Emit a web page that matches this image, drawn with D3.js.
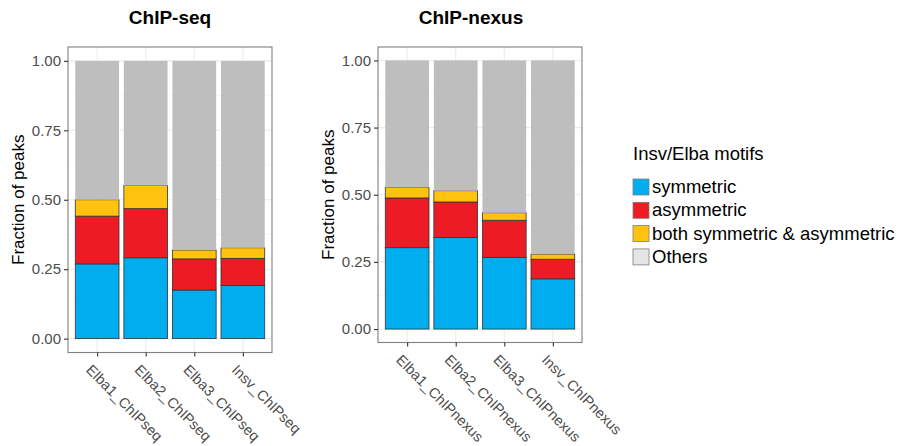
<!DOCTYPE html>
<html>
<head>
  <meta charset="utf-8">
  <title>Insv/Elba motifs</title>
  <script src="https://cdnjs.cloudflare.com/ajax/libs/d3/7.8.5/d3.min.js"></script>
  <style>
    body { margin: 0; background: #fff; }
    text { font-family: "Liberation Sans", Arial, sans-serif; }
  </style>
</head>
<body>
<script>
var width = 899, height = 446;

// data
var seqCategories   = ["Elba1_ChIPseq", "Elba2_ChIPseq", "Elba3_ChIPseq", "Insv_ChIPseq"];
var seqSymmetric    = [0.269, 0.291, 0.175, 0.191];
var seqAsymmetric   = [0.172, 0.177, 0.112, 0.098];
var seqBoth         = [0.059, 0.083, 0.032, 0.038];
var seqOthers       = [0.500, 0.449, 0.681, 0.673];

var nexusCategories = ["Elba1_ChIPnexus", "Elba2_ChIPnexus", "Elba3_ChIPnexus", "Insv_ChIPnexus"];
var nexusSymmetric  = [0.303, 0.341, 0.267, 0.187];
var nexusAsymmetric = [0.185, 0.132, 0.138, 0.073];
var nexusBoth       = [0.039, 0.042, 0.028, 0.019];
var nexusOthers     = [0.473, 0.485, 0.567, 0.721];

var yTicks = [0, 0.25, 0.5, 0.75, 1];
var seriesKeys   = ["symmetric", "asymmetric", "both", "others"];
var seriesLabels = ["symmetric", "asymmetric", "both symmetric & asymmetric", "Others"];
var seriesColors = ["#00aeef", "#ed1c24", "#ffc20e", "#bebebe"];
var legendColors = ["#00aeef", "#ed1c24", "#ffc20e", "#e5e5e5"];

var svg = d3.select("body").append("svg")
  .attr("width", width).attr("height", height);

function panel(opts) {
  var rows = opts.cats.map(function(c, i) {
    return {cat: c, symmetric: opts.sym[i], asymmetric: opts.asym[i], both: opts.both[i], others: opts.oth[i]};
  });
  var x = d3.scalePoint().domain(opts.cats).range([opts.left, opts.right]).padding(0.6);
  var y = d3.scaleLinear().domain([-0.05, 1.05]).range([opts.bottom, opts.top]);
  var bw = x.step() * 0.9;
  var g = svg.append("g");

  g.append("rect")
    .attr("x", opts.left).attr("y", opts.top)
    .attr("width", opts.right - opts.left).attr("height", opts.bottom - opts.top)
    .attr("fill", "#fff");

  // minor grid
  g.selectAll("line.minor").data([0.125, 0.375, 0.625, 0.875]).enter().append("line")
    .attr("x1", opts.left).attr("x2", opts.right)
    .attr("y1", function(d) { return y(d); }).attr("y2", function(d) { return y(d); })
    .attr("stroke", "#f2f2f2").attr("stroke-width", 0.6);
  // major grid
  g.selectAll("line.major").data(yTicks).enter().append("line")
    .attr("x1", opts.left).attr("x2", opts.right)
    .attr("y1", function(d) { return y(d); }).attr("y2", function(d) { return y(d); })
    .attr("stroke", "#ebebeb").attr("stroke-width", 1.1);
  g.selectAll("line.vgrid").data(opts.cats).enter().append("line")
    .attr("x1", function(d) { return x(d); }).attr("x2", function(d) { return x(d); })
    .attr("y1", opts.top).attr("y2", opts.bottom)
    .attr("stroke", "#ebebeb").attr("stroke-width", 1.1);

  var stack = d3.stack().keys(seriesKeys)(rows);
  stack.forEach(function(layer, li) {
    g.selectAll(null).data(layer).enter().append("rect")
      .attr("x", function(d) { return x(d.data.cat) - bw / 2; })
      .attr("width", bw)
      .attr("y", function(d) { return y(d[1]); })
      .attr("height", function(d) { return y(d[0]) - y(d[1]); })
      .attr("fill", seriesColors[li])
      .attr("stroke", li < 3 ? "#333" : "none")
      .attr("stroke-width", 0.8);
  });

  g.append("rect")
    .attr("x", opts.left).attr("y", opts.top)
    .attr("width", opts.right - opts.left).attr("height", opts.bottom - opts.top)
    .attr("fill", "none").attr("stroke", "#7f7f7f").attr("stroke-width", 1.1);

  var ya = g.append("g").attr("transform", "translate(" + opts.left + ",0)")
    .call(d3.axisLeft(y).tickValues(yTicks).tickFormat(d3.format(".2f")).tickSize(4).tickPadding(3));
  ya.select(".domain").remove();
  ya.selectAll("line").attr("stroke", "#333").attr("stroke-width", 1.1);
  ya.selectAll("text").attr("fill", "#4d4d4d").style("font-size", "15px")
    .style("font-family", "'Liberation Sans', Arial, sans-serif");

  var xa = g.append("g").attr("transform", "translate(0," + opts.bottom + ")")
    .call(d3.axisBottom(x).tickSize(4).tickPadding(0));
  xa.select(".domain").remove();
  xa.selectAll("line").attr("stroke", "#333").attr("stroke-width", 1.1);
  xa.selectAll("text").attr("fill", "#4d4d4d").style("font-size", "14.5px")
    .style("font-family", "'Liberation Sans', Arial, sans-serif")
    .attr("text-anchor", "start").attr("dy", null).attr("y", 0)
    .attr("transform", "translate(-5,11) rotate(45)")
    .attr("dominant-baseline", "hanging");

  svg.append("text")
    .attr("x", opts.titleX).attr("y", 24)
    .attr("text-anchor", "middle")
    .style("font-size", "19px").style("font-weight", "bold")
    .text(opts.title);

  svg.append("text")
    .attr("transform", "translate(" + opts.ylabX + "," + ((opts.top + opts.bottom) / 2) + ") rotate(-90)")
    .attr("text-anchor", "middle")
    .style("font-size", "17px")
    .text("Fraction of peaks");
}

panel({title: "ChIP-seq", titleX: 170, ylabX: 24, left: 68, right: 272, top: 47, bottom: 352.5,
  cats: seqCategories, sym: seqSymmetric, asym: seqAsymmetric, both: seqBoth, oth: seqOthers});
panel({title: "ChIP-nexus", titleX: 471, ylabX: 334, left: 378, right: 582, top: 47, bottom: 342.5,
  cats: nexusCategories, sym: nexusSymmetric, asym: nexusAsymmetric, both: nexusBoth, oth: nexusOthers});

// legend
var lg = svg.append("g").attr("transform", "translate(633,0)");
lg.append("text").attr("x", 0).attr("y", 160).style("font-size", "18.5px").text("Insv/Elba motifs");
var items = lg.selectAll("g.item").data(seriesLabels).enter().append("g")
  .attr("transform", function(d, i) { return "translate(0," + (179 + i * 23.3) + ")"; });
items.append("rect")
  .attr("width", 16).attr("height", 16)
  .attr("fill", function(d, i) { return legendColors[i]; })
  .attr("stroke", "#7f7f7f").attr("stroke-width", 0.8);
items.append("text")
  .attr("x", 19).attr("y", 14)
  .style("font-size", "18.5px")
  .text(function(d) { return d; });
</script>
</body>
</html>
